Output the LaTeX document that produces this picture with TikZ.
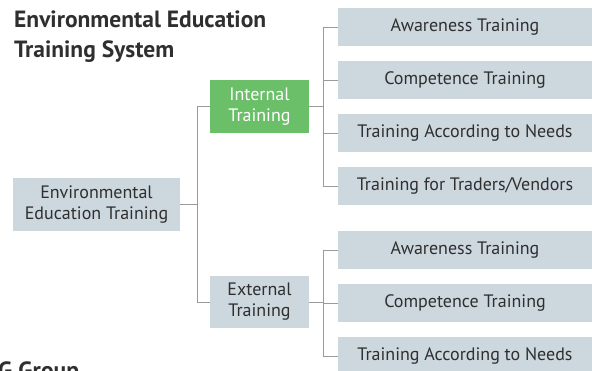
\documentclass[tikz,border=0pt]{standalone}
\usepackage{fontspec}
\setmainfont{PT Sans}
\definecolor{boxgray}{HTML}{CDD7DE}
\definecolor{boxgreen}{HTML}{6BBF69}
\definecolor{linegray}{HTML}{9A9A9A}
\definecolor{textgray}{HTML}{2F2F2F}
\tikzset{
  tbox/.style={rectangle, fill=boxgray, text=textgray, inner sep=0pt, align=center, font=\fontsize{18}{21}\selectfont},
  leaf/.style={tbox, minimum width=254pt, minimum height=38pt},
  heading/.style={anchor=base west, text=textgray, inner sep=0pt, font=\fontsize{23.5}{30}\selectfont\bfseries},
  link/.style={draw=linegray, line width=0.9pt}
}
\begin{document}
\begin{tikzpicture}[x=1pt, y=-1pt]
\useasboundingbox (0,0) rectangle (592,370);
\node[heading] (title1) at (14,27) {Environmental Education};
\node[heading] (title2) at (14,57) {Training System};
\begin{scope}
\clip (0,0) rectangle (592,370);
\node[heading] (group) at (-2,378.5) {G Group};
\end{scope}
\node[tbox, minimum width=167pt, minimum height=53pt] (env) at (96.5,204.5) {Environmental\\Education Training};
\node[tbox, fill=boxgreen, text=white, minimum width=99pt, minimum height=53pt] (int) at (259.5,106.5) {Internal\\Training};
\node[tbox, minimum width=99pt, minimum height=52pt] (ext) at (259.5,302) {External\\Training};
\node[leaf] (int1) at (465,27) {Awareness Training};
\node[leaf] (int2) at (465,80) {Competence Training};
\node[leaf] (int3) at (465,133) {Training According to Needs};
\node[leaf] (int4) at (465,186) {Training for Traders/Vendors};
\node[leaf] (ext1) at (465,250) {Awareness Training};
\node[leaf] (ext2) at (465,303) {Competence Training};
\node[leaf] (ext3) at (465,356) {Training According to Needs};
\coordinate (jroot) at (197,204.5);
\coordinate (jint) at (323,106.5);
\coordinate (jext) at (323,302);
\draw[link] (env.east) -- (jroot);
\draw[link] (jroot) |- (int.west);
\draw[link] (jroot) |- (ext.west);
\draw[link] (int.east) -- (jint);
\draw[link] (ext.east) -- (jext);
\foreach \n in {int1,int2,int3,int4}
  \draw[link] (jint) |- (\n.west);
\foreach \n in {ext1,ext2,ext3}
  \draw[link] (jext) |- (\n.west);
\end{tikzpicture}
\end{document}
